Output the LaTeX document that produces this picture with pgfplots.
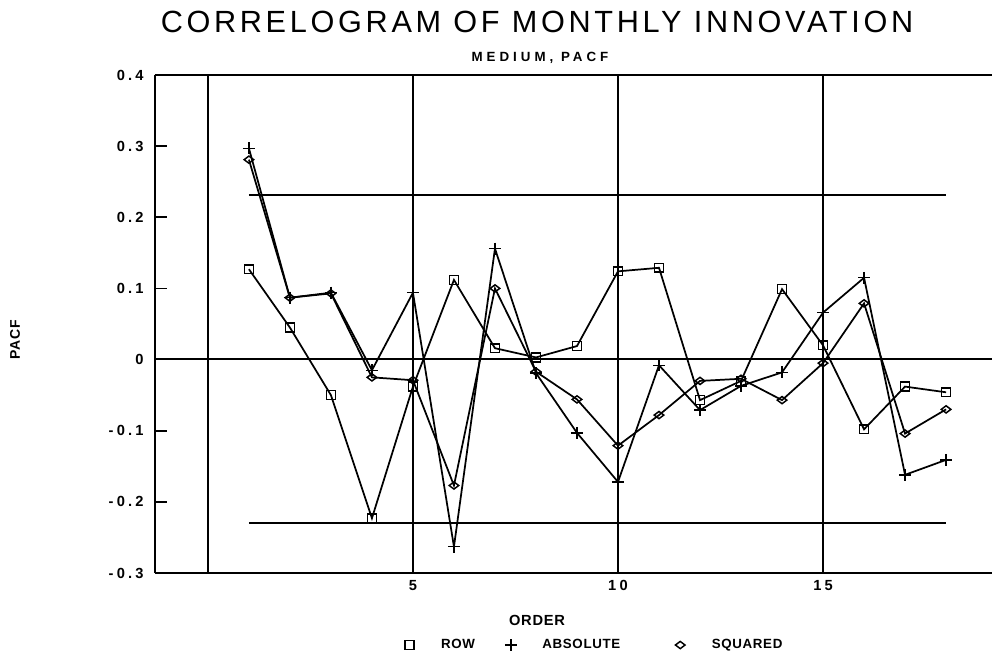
\documentclass[border=0pt]{standalone}
\usepackage{fontspec}
\setmainfont{Liberation Sans}
\newfontfamily\tickfont[LetterSpace=22]{Liberation Sans}
\newfontfamily\labfont[LetterSpace=5]{Liberation Sans}
\newfontfamily\titlefont[LetterSpace=12]{Liberation Sans}
\newfontfamily\subfont[LetterSpace=30]{Liberation Sans}
\usepackage{pgfplots}
\pgfplotsset{compat=1.18}
\begin{document}
\begin{tikzpicture}
\path[use as bounding box] (-116.25pt,-63pt) rectangle (627.75pt,429.75pt);
\begin{axis}[
  at={(0,0)}, anchor=south west,
  scale only axis, width=627.75pt, height=373.5pt,
  xmin=-1.29, xmax=19.12, ymin=-0.3, ymax=0.4,
  axis y line*=left,
  axis line style={line width=1.3pt},
  xtick={0,5,10,15}, xticklabels={,5,10,15},
  xmajorgrids, major grid style={black, line width=1.3pt},
  xtick style={draw=none},
  ytick={-0.3,-0.2,-0.1,0,0.1,0.2,0.3,0.4},
  yticklabels={-0.3,-0.2,-0.1,0,0.1,0.2,0.3,0.4},
  tick align=inside, ytick pos=left, major tick length=9pt,
  ytick style={line width=1.3pt, black},
  ticklabel style={font=\tickfont\bfseries\fontsize{11}{13}\selectfont},
  yticklabel style={xshift=-5pt},
  xticklabel style={yshift=-2pt},
  every axis plot/.append style={black, line width=1.3pt},
  legend columns=3,
  legend style={draw=none, at={(0.5245,-0.1446)}, anchor=center,
    font=\labfont\bfseries\fontsize{10}{12}\selectfont,
    /tikz/every even column/.append style={column sep=20pt}},
  legend image code/.code={\draw[#1] plot[only marks] coordinates {(0.15cm,0cm)};
    \path (0cm,0cm) (0.15cm+21pt,0cm);},
]
\addplot[mark=square, mark size=3.3pt, mark options={line width=1.1pt}] coordinates {
(1,0.127)(2,0.045)(3,-0.050)(4,-0.223)(5,-0.038)(6,0.112)(7,0.016)(8,0.003)(9,0.019)
(10,0.124)(11,0.129)(12,-0.057)(13,-0.030)(14,0.099)(15,0.020)(16,-0.098)(17,-0.038)(18,-0.046)};
\addlegendentry{ROW}
\addplot[mark=+, mark size=4.5pt, mark options={line width=1.1pt}] coordinates {
(1,0.297)(2,0.087)(3,0.094)(4,-0.015)(5,0.094)(6,-0.263)(7,0.156)(8,-0.019)(9,-0.103)
(10,-0.172)(11,-0.008)(12,-0.071)(13,-0.037)(14,-0.018)(15,0.066)(16,0.115)(17,-0.162)(18,-0.141)};
\addlegendentry{ABSOLUTE\hspace*{18pt}\mbox{}}
\addplot[mark=diamond, mark size=3.6pt, mark options={line width=1.1pt, rotate=90}] coordinates {
(1,0.281)(2,0.087)(3,0.093)(4,-0.025)(5,-0.029)(6,-0.177)(7,0.100)(8,-0.017)(9,-0.056)
(10,-0.121)(11,-0.078)(12,-0.030)(13,-0.027)(14,-0.057)(15,-0.005)(16,0.079)(17,-0.104)(18,-0.070)};
\addlegendentry{SQUARED}
\addplot[forget plot, black, line width=1.5pt] coordinates {(-2,0.0005)(20,0.0005)};
\addplot[forget plot, black, line width=1.3pt] coordinates {(1,0.231)(18,0.231)};
\addplot[forget plot, black, line width=1.3pt] coordinates {(1,-0.230)(18,-0.230)};
\end{axis}
\node[font=\titlefont\fontsize{23}{26}\selectfont] at (286.5pt,413.25pt) {CORRELOGRAM OF MONTHLY INNOVATION};
\node[font=\subfont\bfseries\fontsize{10}{12}\selectfont] at (288.75pt,386.25pt) {MEDIUM,\ PACF};
\node[font=\labfont\bfseries\fontsize{10.5}{12}\selectfont, rotate=90] at (-105pt,174.75pt) {PACF};
\node[font=\labfont\bfseries\fontsize{11}{13}\selectfont] at (286.5pt,-35.25pt) {ORDER};
\end{tikzpicture}
\end{document}
